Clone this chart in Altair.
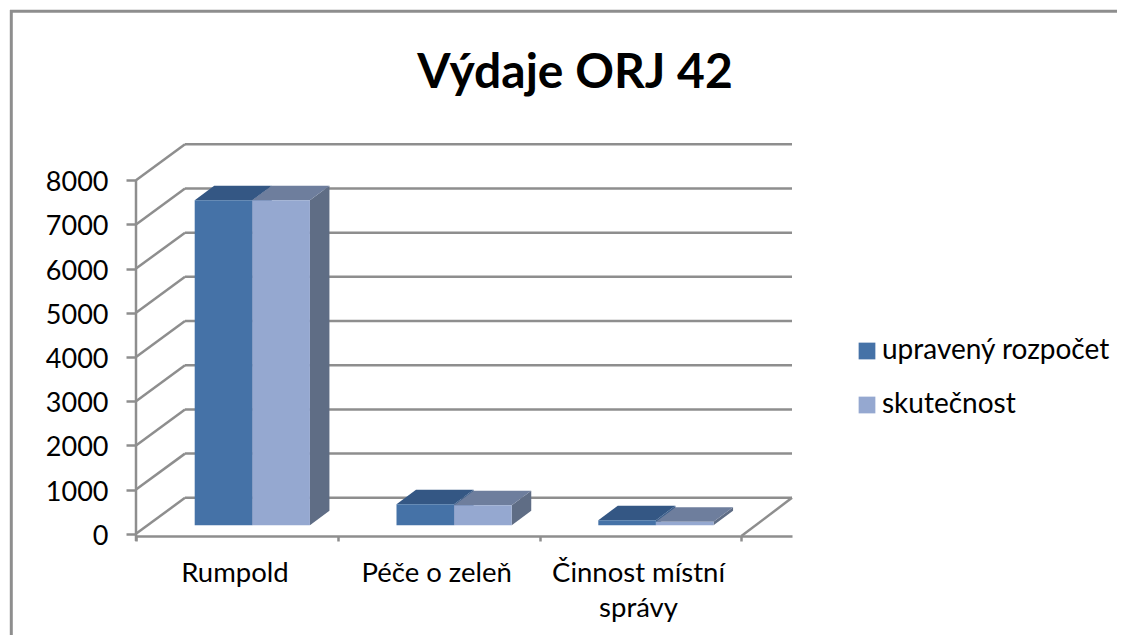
import json
import altair as alt
import pandas as pd

categories = ["Rumpold", "Péče o zeleň", ["Činnost místní", "správy"]]
series_names = ["upravený rozpočet", "skutečnost"]
budget = [7350, 475, 113]
actual = [7350, 452, 76]
y_ticks = [0, 1000, 2000, 3000, 4000, 5000, 6000, 7000, 8000]

FRONT = ["#4572A7", "#95A8D0"]
TOP = ["#345784", "#6E7E9D"]
SIDE = ["#3C5F8C", "#5F6D85"]
GREY = "#8E8E8E"

# plot geometry in scale units
X_MAX = 3.2507
WALL_DX, WALL_DY = 0.2428, 814
BAR_DX, BAR_DY = 0.0966, 328
BAR_X0, BAR_W = 0.2909, 0.2855
BAR_BASE = 195
Y_MIN, Y_MAX = -50, 8910

WIDTH, HEIGHT = 656, 396

x_scale = alt.Scale(domain=[0, X_MAX], nice=False, zero=False)
y_scale = alt.Scale(domain=[Y_MIN, Y_MAX], nice=False, zero=False)

# bars
front_rows, face_rows = [], []
for s, values in enumerate([budget, actual]):
    for c, v in enumerate(values):
        x0 = c + BAR_X0 + s * BAR_W
        x1 = x0 + BAR_W
        y0 = BAR_BASE
        y1 = BAR_BASE + v
        d, h = BAR_DX, BAR_DY
        front_rows.append(dict(series=series_names[s], x=x0, x2=x1, y=y0, y2=y1))
        top_id = f"t{s}{c}"
        side_id = f"s{s}{c}"
        face_rows += [
            dict(face=side_id, order=2 * s, fill=SIDE[s], x=x1, y=y0, y2=y1),
            dict(face=side_id, order=2 * s, fill=SIDE[s], x=x1 + d, y=y0 + h, y2=y1 + h),
            dict(face=top_id, order=2 * s + 1, fill=TOP[s], x=x0, y=y1, y2=y1),
            dict(face=top_id, order=2 * s + 1, fill=TOP[s], x=x0 + d, y=y1, y2=y1 + h),
            dict(face=top_id, order=2 * s + 1, fill=TOP[s], x=x1, y=y1, y2=y1 + h),
            dict(face=top_id, order=2 * s + 1, fill=TOP[s], x=x1 + d, y=y1 + h, y2=y1 + h),
        ]
front = pd.DataFrame(front_rows)
faces = pd.DataFrame(face_rows)

# wall gridlines and floor
grid = pd.DataFrame(dict(v=y_ticks))
grid["x"] = WALL_DX
grid["x2"] = X_MAX
grid["yb"] = grid.v + WALL_DY

diag_rows = []
for v in y_ticks:
    diag_rows += [dict(k=f"d{v}", x=0, y=v), dict(k=f"d{v}", x=WALL_DX, y=v + WALL_DY)]
diag_rows += [dict(k="r", x=3, y=Y_MIN), dict(k="r", x=X_MAX, y=WALL_DY)]
diags = pd.DataFrame(diag_rows)

x_vals = [0, 0.5, 1, 1.5, 2, 2.5, 3]
label_expr = (
    f"datum.value % 1 == 0 ? '' : {json.dumps(categories, ensure_ascii=False)}[floor(datum.value)]"
)
x_axis = alt.Axis(
    values=x_vals,
    labelExpr=label_expr,
    title=None,
    grid=False,
    domainColor=GREY,
    domainWidth=2.5,
    tickColor={"condition": {"test": "datum.value % 1 == 0", "value": GREY}, "value": "transparent"},
    tickWidth=2.5,
    tickSize=5,
    labelFont="Lato",
    labelFontSize=27.5,
    labelColor="#000000",
    labelPadding=18,
    labelLineHeight=35,
    labelOverlap=False,
    labelAngle=0,
    labelBaseline="top",
    labelFlush=False,
    labelOffset=-2.5,
)
y_axis = alt.Axis(
    values=y_ticks,
    title=None,
    grid=False,
    domain=False,
    tickColor=GREY,
    tickWidth=2.5,
    tickSize=10,
    labelFont="Lato",
    labelFontSize=27,
    labelColor="#000000",
    labelPadding=18,
    labelOffset=2.5,
    format="d",
)

rules = (
    alt.Chart(grid)
    .mark_rule(color=GREY, strokeWidth=2.5)
    .encode(
        x=alt.X("x:Q", scale=x_scale, axis=x_axis),
        x2="x2:Q",
        y=alt.Y("yb:Q", scale=y_scale, axis=y_axis),
    )
)
diag = (
    alt.Chart(diags)
    .mark_line(color=GREY, strokeWidth=2.5)
    .encode(x=alt.X("x:Q", scale=x_scale), y=alt.Y("y:Q", scale=y_scale), detail="k:N")
)
y_line = (
    alt.Chart(pd.DataFrame(dict(a=[-165], b=[8000], x=[0])))
    .mark_rule(color=GREY, strokeWidth=2.5)
    .encode(x=alt.X("x:Q", scale=x_scale), y=alt.Y("a:Q", scale=y_scale), y2="b:Q")
)
face_layer = (
    alt.Chart(faces)
    .mark_area(opacity=1, clip=False)
    .encode(
        x=alt.X("x:Q", scale=x_scale),
        y=alt.Y("y:Q", scale=y_scale),
        y2="y2:Q",
        detail="face:N",
        color=alt.Color("fill:N", scale=None),
        order=alt.Order("order:Q"),
    )
)
front_layer = (
    alt.Chart(front)
    .mark_rect()
    .encode(
        x=alt.X("x:Q", scale=x_scale),
        x2="x2:Q",
        y=alt.Y("y:Q", scale=y_scale),
        y2="y2:Q",
        color=alt.Color(
            "series:N",
            scale=alt.Scale(domain=series_names, range=FRONT),
            legend=alt.Legend(
                title=None,
                orient="none",
                legendX=717,
                legendY=197,
                symbolType="square",
                symbolSize=280,
                symbolStrokeWidth=0,
                symbolOpacity=1,
                labelFont="Lato",
                labelFontSize=28,
                labelColor="#000000",
                labelOffset=1,
                rowPadding=26,
                labelLimit=400,
            ),
        ),
    )
)

# outer chart frame (left and top edges only reach the picture's border)
frame_left = alt.Chart(pd.DataFrame(dict(k=[0]))).mark_rule(color=GREY, strokeWidth=3).encode(
    x=alt.value(-124.7), y=alt.value(-130), y2=alt.value(HEIGHT + 110)
)
frame_top = alt.Chart(pd.DataFrame(dict(k=[0]))).mark_rule(color=GREY, strokeWidth=3).encode(
    x=alt.value(-126), x2=alt.value(WIDTH + 340), y=alt.value(-128.7)
)

chart = (
    alt.layer(frame_left, frame_top, rules, diag, y_line, face_layer, front_layer)
    .properties(
        width=WIDTH,
        height=HEIGHT,
        autosize=alt.AutoSizeParams(type="none"),
        padding={"left": 128, "top": 132, "right": 325, "bottom": 99},
        title=alt.TitleParams(
            "Výdaje ORJ 42",
            font="Lato",
            fontSize=48,
            fontWeight="bold",
            color="#000000",
            anchor="middle",
            dx=111,
            offset=-127,
            baseline="alphabetic",
        ),
    )
    .configure_view(stroke=None)
)

chart.save("out.html", embed_options={"renderer": "svg", "actions": False})
